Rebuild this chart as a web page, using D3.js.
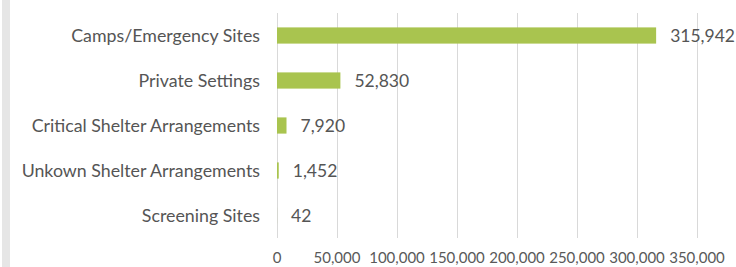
<!DOCTYPE html>
<html>
<head>
<meta charset="utf-8">
<script src="https://cdn.jsdelivr.net/npm/d3@7"></script>
<style>
  body { margin: 0; background: #fff; }
  svg { display: block; font-family: Lato, "Open Sans", sans-serif; }
</style>
</head>
<body>
<svg width="736" height="267"></svg>
<script>
const categories = [
  "Camps/Emergency Sites",
  "Private Settings",
  "Critical Shelter Arrangements",
  "Unkown Shelter Arrangements",
  "Screening Sites"
];
const values = [315942, 52830, 7920, 1452, 42];
const ticks = [0, 50000, 100000, 150000, 200000, 250000, 300000, 350000];

const svg = d3.select("svg");
const margin = { top: 13, right: 39, bottom: 29, left: 277 };
const width = 736, height = 267;

// grey strip on the left edge
svg.append("rect")
  .attr("x", 2).attr("y", 0)
  .attr("width", 8).attr("height", height)
  .attr("fill", "#e6e6e6");

const x = d3.scaleLinear()
  .domain([0, 350000])
  .range([margin.left, width - margin.right]);

const y = d3.scaleBand()
  .domain(categories)
  .range([margin.top, height - margin.bottom])
  .paddingInner(0.64)
  .paddingOuter(0.32);

const fmt = d3.format(",");

// gridlines
svg.append("g")
  .selectAll("line")
  .data(ticks)
  .join("line")
  .attr("x1", (d) => x(d) + 0.5)
  .attr("x2", (d) => x(d) + 0.5)
  .attr("y1", margin.top)
  .attr("y2", height - margin.bottom)
  .attr("stroke", "#d9d9d9")
  .attr("stroke-width", 1);

// x tick labels
svg.append("g")
  .selectAll("text")
  .data(ticks)
  .join("text")
  .attr("x", (d) => x(d))
  .attr("y", 263)
  .attr("text-anchor", "middle")
  .attr("font-size", "15px")
  .attr("fill", "#595959")
  .text((d) => fmt(d));

// bars
svg.append("g")
  .selectAll("rect")
  .data(values)
  .join("rect")
  .attr("x", x(0))
  .attr("y", (d, i) => y(categories[i]))
  .attr("width", (d) => x(d) - x(0))
  .attr("height", y.bandwidth())
  .attr("fill", "#a9c44f");

// category labels
svg.append("g")
  .selectAll("text")
  .data(categories)
  .join("text")
  .attr("x", 260)
  .attr("y", (d) => y(d) + y.bandwidth() / 2)
  .attr("dy", "0.35em")
  .attr("text-anchor", "end")
  .attr("font-size", "17.8px")
  .attr("fill", "#555555")
  .text((d) => d);

// value labels
svg.append("g")
  .selectAll("text")
  .data(values)
  .join("text")
  .attr("x", (d) => x(d) + 14)
  .attr("y", (d, i) => y(categories[i]) + y.bandwidth() / 2)
  .attr("dy", "0.35em")
  .attr("font-size", "17.5px")
  .attr("fill", "#555555")
  .text((d) => fmt(d));
</script>
</body>
</html>
